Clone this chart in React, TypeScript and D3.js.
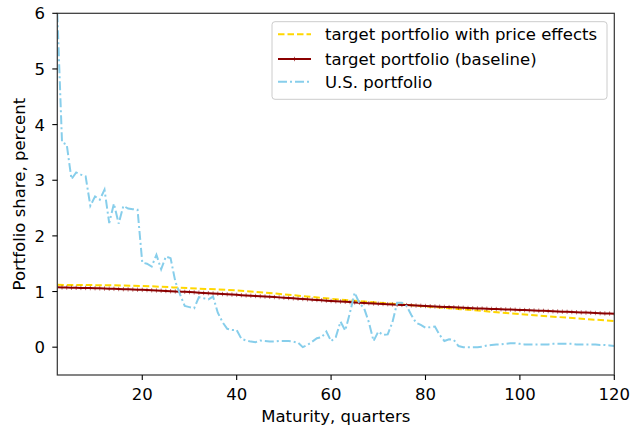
import React from "react";
import * as d3 from "d3";

// Maturity in quarters (per-quarter series start at 2)
const maturityQuarters: number[] = d3.range(2, 121);

// U.S. portfolio, percent (quarters 2..120)
const usPortfolio: number[] = [
  6.0, 3.68, 3.64, 3.02, 3.14, 3.10, 3.07, 2.54, 2.71,
  2.65, 2.83, 2.23, 2.58, 2.22, 2.54, 2.49, 2.48, 2.47, 1.52,
  1.50, 1.45, 1.66, 1.40, 1.63, 1.60, 1.18, 0.95, 0.74, 0.72,
  0.70, 0.90, 0.88, 0.86, 0.91, 0.62, 0.45, 0.33, 0.31, 0.31,
  0.15, 0.12, 0.10, 0.09, 0.12, 0.11, 0.10, 0.10, 0.11, 0.11,
  0.11, 0.10, 0.08, 0.00, 0.04, 0.10, 0.16, 0.18, 0.28, 0.11,
  0.18, 0.46, 0.30, 0.62, 0.98, 0.79, 0.70, 0.45, 0.11, 0.28,
  0.22, 0.23, 0.45, 0.80, 0.80, 0.74, 0.58, 0.44, 0.40, 0.35,
  0.36, 0.37, 0.22, 0.11, 0.14, 0.13, 0.02, 0.00, 0.00, 0.00,
  0.00, 0.01, 0.03, 0.04, 0.05, 0.05, 0.06, 0.07, 0.07, 0.06,
  0.05, 0.05, 0.05, 0.05, 0.05, 0.05, 0.06, 0.06, 0.06, 0.06,
  0.06, 0.05, 0.05, 0.05, 0.05, 0.05, 0.04, 0.04, 0.03, 0.02,
];

// Target portfolio (baseline), percent (quarters 2..120)
const baseline: number[] = [
  1.075, 1.073, 1.071, 1.069, 1.067, 1.065, 1.064, 1.062, 1.06,
  1.057, 1.054, 1.051, 1.048, 1.045, 1.042, 1.039, 1.036, 1.033, 1.03,
  1.026, 1.022, 1.018, 1.014, 1.01, 1.006, 1.002, 0.998, 0.994, 0.99,
  0.985, 0.98, 0.975, 0.97, 0.965, 0.96, 0.955, 0.95, 0.945, 0.94,
  0.935, 0.93, 0.925, 0.92, 0.915, 0.91, 0.905, 0.9, 0.895, 0.89,
  0.884, 0.878, 0.872, 0.866, 0.86, 0.854, 0.848, 0.842, 0.836, 0.83,
  0.825, 0.82, 0.815, 0.81, 0.805, 0.8, 0.795, 0.79, 0.785, 0.78,
  0.776, 0.772, 0.768, 0.764, 0.76, 0.756, 0.752, 0.748, 0.744, 0.74,
  0.736, 0.732, 0.728, 0.724, 0.72, 0.716, 0.712, 0.708, 0.704, 0.7,
  0.697, 0.694, 0.691, 0.688, 0.685, 0.682, 0.679, 0.676, 0.673, 0.67,
  0.6665, 0.663, 0.6595, 0.656, 0.6525, 0.649, 0.6455, 0.642, 0.6385, 0.635,
  0.6315, 0.628, 0.6245, 0.621, 0.6175, 0.614, 0.6105, 0.607, 0.6035, 0.6,
];

// Target portfolio with price effects, percent
const priceEffectsQuarters: number[] = [2, 10, 20, 30, 40, 50, 60, 70, 80, 90, 100, 110, 120];
const priceEffects: number[] = [1.12, 1.115, 1.10, 1.06, 1.02, 0.95, 0.87, 0.80, 0.735, 0.665, 0.595, 0.53, 0.47];

const xTicks: number[] = [20, 40, 60, 80, 100, 120];
const yTicks: number[] = [0, 1, 2, 3, 4, 5, 6];

const legendLabels: string[] = [
  "target portfolio with price effects",
  "target portfolio (baseline)",
  "U.S. portfolio",
];

const W = 632;
const H = 429;
const L = 57.3;
const R = 614.3;
const T = 13.3;
const B = 375;
const FONT = "DejaVu Sans, sans-serif";
const FS = 16.5;

const GOLD = "#FFD700";
const DARKRED = "#8B0000";
const SKY = "#87CEEB";

export default function App() {
  const x = d3.scaleLinear().domain([2, 120]).range([L, R]);
  const y = d3.scaleLinear().domain([-0.5, 6]).range([B, T]);

  const usData = maturityQuarters.map((q, i) => [q, usPortfolio[i]] as [number, number]);
  const baseData = maturityQuarters.map((q, i) => [q, baseline[i]] as [number, number]);
  const peData = priceEffectsQuarters.map((q, i) => [q, priceEffects[i]] as [number, number]);

  const line = d3.line<[number, number]>().x((d) => x(d[0])).y((d) => y(d[1]));
  const smooth = d3
    .line<[number, number]>()
    .x((d) => x(d[0]))
    .y((d) => y(d[1]))
    .curve(d3.curveMonotoneX);

  const legX = 272;
  const legY = 21.7;
  const legW = 335;
  const legH = 77.6;
  const rowY = [34.3, 59, 81.7];
  const textY = [40, 65, 88.3];

  return (
    <svg
      width={W}
      height={H}
      style={{ position: "absolute", left: 0, top: 0, background: "#fff" }}
      fontFamily={FONT}
    >
      <defs>
        <clipPath id="plotclip">
          <rect x={L} y={T} width={R - L} height={B - T} />
        </clipPath>
      </defs>
      <rect x={0} y={0} width={W} height={H} fill="#fff" />

      <g clipPath="url(#plotclip)">
        <path
          d={smooth(peData) || ""}
          fill="none"
          stroke={GOLD}
          strokeWidth={2}
          strokeDasharray="6.5,3"
        />
        <path d={line(baseData) || ""} fill="none" stroke={DARKRED} strokeWidth={2} />
        {baseData.map((d, i) => (
          <line
            key={i}
            x1={x(d[0])}
            x2={x(d[0])}
            y1={y(d[1]) - 2.2}
            y2={y(d[1]) + 2.2}
            stroke={DARKRED}
            strokeWidth={1}
            strokeOpacity={0.55}
          />
        ))}
        <path
          d={line(usData) || ""}
          fill="none"
          stroke={SKY}
          strokeWidth={2}
          strokeDasharray="9,3,2,3"
        />
      </g>

      {/* spines */}
      <rect x={L} y={T} width={R - L} height={B - T} fill="none" stroke="#333" strokeWidth={1.2} />

      {/* x ticks */}
      {xTicks.map((t) => (
        <g key={"x" + t}>
          <line x1={x(t)} x2={x(t)} y1={B} y2={B + 5} stroke="#000" strokeWidth={1.1} />
          <text x={x(t)} y={400} textAnchor="middle" fontSize={FS} fill="#000">
            {t}
          </text>
        </g>
      ))}
      {/* y ticks */}
      {yTicks.map((t) => (
        <g key={"y" + t}>
          <line x1={L - 5} x2={L} y1={y(t)} y2={y(t)} stroke="#000" strokeWidth={1.1} />
          <text x={45} y={y(t) + 6} textAnchor="end" fontSize={FS} fill="#000">
            {t}
          </text>
        </g>
      ))}

      <text x={(L + R) / 2} y={421.7} textAnchor="middle" fontSize={FS} fill="#000">
        Maturity, quarters
      </text>
      <text
        transform={`translate(25,${(T + B) / 2}) rotate(-90)`}
        textAnchor="middle"
        fontSize={FS}
        fill="#000"
      >
        Portfolio share, percent
      </text>

      {/* legend */}
      <rect
        x={legX}
        y={legY}
        width={legW}
        height={legH}
        rx={3}
        fill="#fff"
        fillOpacity={0.8}
        stroke="#ccc"
        strokeWidth={1}
      />
      <line x1={278} x2={311} y1={rowY[0]} y2={rowY[0]} stroke={GOLD} strokeWidth={2} strokeDasharray="6.5,3" />
      <line x1={278} x2={311} y1={rowY[1]} y2={rowY[1]} stroke={DARKRED} strokeWidth={2} />
      <line x1={294.5} x2={294.5} y1={rowY[1] - 2.2} y2={rowY[1] + 2.2} stroke={DARKRED} strokeWidth={1} strokeOpacity={0.6} />
      <line x1={278} x2={311} y1={rowY[2]} y2={rowY[2]} stroke={SKY} strokeWidth={2} strokeDasharray="9,3,2,3" />
      {legendLabels.map((s, i) => (
        <text key={s} x={325} y={textY[i]} fontSize={FS} fill="#000">
          {s}
        </text>
      ))}
    </svg>
  );
}
